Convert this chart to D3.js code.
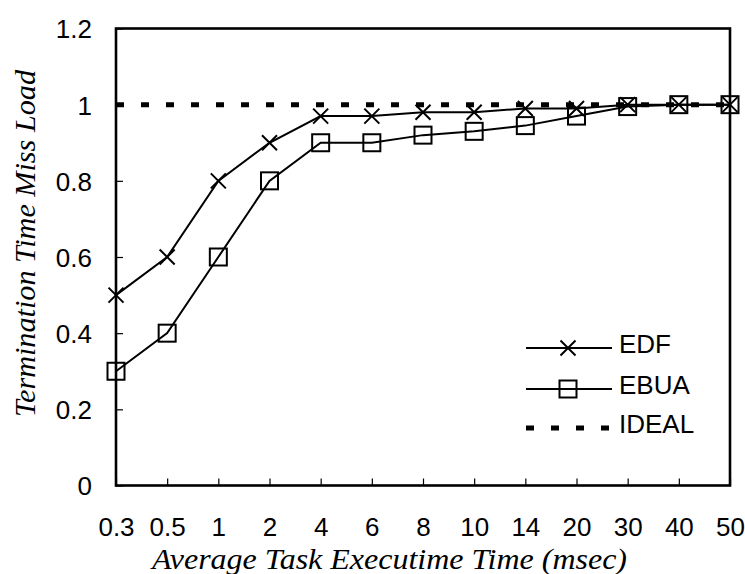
<!DOCTYPE html>
<html>
<head>
<meta charset="utf-8">
<script src="https://cdn.jsdelivr.net/npm/d3@7"></script>
<style>
  html, body { margin: 0; padding: 0; background: #fff; }
  svg { display: block; }
</style>
</head>
<body>
<svg id="chart" width="745" height="574"></svg>
<script>
// Average task execution time categories (msec)
const categories = ["0.3", "0.5", "1", "2", "4", "6", "8", "10", "14", "20", "30", "40", "50"];
// Termination time miss load per scheduler
const edfValues   = [0.50, 0.60, 0.80, 0.90, 0.97, 0.97, 0.98, 0.98, 0.99, 0.99, 1.00, 1.00, 1.00];
const ebuaValues  = [0.30, 0.40, 0.60, 0.80, 0.90, 0.90, 0.92, 0.93, 0.945, 0.97, 0.995, 1.00, 1.00];
const idealValues = [1, 1, 1, 1, 1, 1, 1, 1, 1, 1, 1, 1, 1];
const yTicks = [0, 0.2, 0.4, 0.6, 0.8, 1, 1.2];
const seriesNames = ["EDF", "EBUA", "IDEAL"];

const svg = d3.select("#chart");
const plotLeft = 116, plotRight = 730, plotTop = 28.5, plotBottom = 485.5;

const x = d3.scalePoint().domain(categories).range([plotLeft, plotRight]);
const y = d3.scaleLinear().domain([0, 1.2]).range([plotBottom, plotTop]);

const sansFont = "'Liberation Sans', Arial, Helvetica, sans-serif";
const serifFont = "'Times New Roman', 'Liberation Serif', Times, serif";
const labelSize = 26;

// y axis: inward ticks, labels on the left
const yAxis = svg.append("g").attr("transform", `translate(${plotLeft},0)`)
  .call(d3.axisRight(y).tickValues(yTicks).tickSize(7).tickFormat(d3.format("~g")));
yAxis.select(".domain").remove();
yAxis.selectAll(".tick line").attr("stroke", "#000").attr("stroke-width", 1.2);
yAxis.selectAll(".tick text")
  .attr("x", -24).attr("text-anchor", "end").attr("dy", "0.36em")
  .attr("font-family", sansFont).attr("font-size", labelSize).attr("fill", "#000");

// x axis: inward ticks, labels below
const xAxis = svg.append("g").attr("transform", `translate(0,${plotBottom})`)
  .call(d3.axisTop(x).tickSize(7));
xAxis.select(".domain").remove();
xAxis.selectAll(".tick line").attr("stroke", "#000").attr("stroke-width", 1.2);
xAxis.selectAll(".tick text")
  .attr("y", 41).attr("dy", "0.36em")
  .attr("font-family", sansFont).attr("font-size", labelSize).attr("fill", "#000");

// plot frame
svg.append("rect")
  .attr("x", plotLeft).attr("y", plotTop)
  .attr("width", plotRight - plotLeft).attr("height", plotBottom - plotTop)
  .attr("fill", "none").attr("stroke", "#000").attr("stroke-width", 2.6);

const line = d3.line().x((d, i) => x(categories[i])).y(d => y(d));

// IDEAL dashed line
svg.append("path").datum(idealValues)
  .attr("d", line).attr("fill", "none")
  .attr("stroke", "#000").attr("stroke-width", 5)
  .attr("stroke-dasharray", "8,17");

// EBUA line
svg.append("path").datum(ebuaValues)
  .attr("d", line).attr("fill", "none")
  .attr("stroke", "#000").attr("stroke-width", 2);

// EDF line
svg.append("path").datum(edfValues)
  .attr("d", line).attr("fill", "none")
  .attr("stroke", "#000").attr("stroke-width", 2);

const sq = 17, xs = 7.5;
function squareMarker(g, cx, cy) {
  g.append("rect").attr("x", cx - sq / 2).attr("y", cy - sq / 2)
    .attr("width", sq).attr("height", sq)
    .attr("fill", "none").attr("stroke", "#000").attr("stroke-width", 2);
}
function crossMarker(g, cx, cy) {
  g.append("path")
    .attr("d", `M${cx - xs},${cy - xs}L${cx + xs},${cy + xs}M${cx - xs},${cy + xs}L${cx + xs},${cy - xs}`)
    .attr("stroke", "#000").attr("stroke-width", 2).attr("fill", "none");
}

const markers = svg.append("g");
ebuaValues.forEach((v, i) => squareMarker(markers, x(categories[i]), y(v)));
edfValues.forEach((v, i) => crossMarker(markers, x(categories[i]), y(v)));

// legend
const legend = svg.append("g");
const lx0 = 526, lx1 = 612, lmid = 568, ltx = 619;
const rows = [348, 389, 428];
rows.forEach((ry, i) => {
  const name = seriesNames[i];
  if (name === "IDEAL") {
    legend.append("line").attr("x1", lx0).attr("x2", lx1).attr("y1", ry).attr("y2", ry)
      .attr("stroke", "#000").attr("stroke-width", 5).attr("stroke-dasharray", "8,17");
  } else {
    legend.append("line").attr("x1", lx0).attr("x2", lx1).attr("y1", ry).attr("y2", ry)
      .attr("stroke", "#000").attr("stroke-width", 2);
    if (name === "EDF") crossMarker(legend, lmid, ry);
    else squareMarker(legend, lmid, ry);
  }
  legend.append("text").attr("x", ltx).attr("y", ry + 5)
    .attr("font-family", sansFont).attr("font-size", labelSize).text(name);
});

// axis titles
svg.append("text")
  .attr("x", 152).attr("y", 569)
  .attr("textLength", 475).attr("lengthAdjust", "spacingAndGlyphs")
  .attr("font-family", serifFont).attr("font-style", "italic").attr("font-size", 29)
  .text("Average Task Executime Time (msec)");

svg.append("text")
  .attr("transform", `translate(35,70) rotate(-90)`)
  .attr("x", -347)
  .attr("textLength", 347).attr("lengthAdjust", "spacingAndGlyphs")
  .attr("font-family", serifFont).attr("font-style", "italic").attr("font-size", 29)
  .text("Termination Time Miss Load");
</script>
</body>
</html>
